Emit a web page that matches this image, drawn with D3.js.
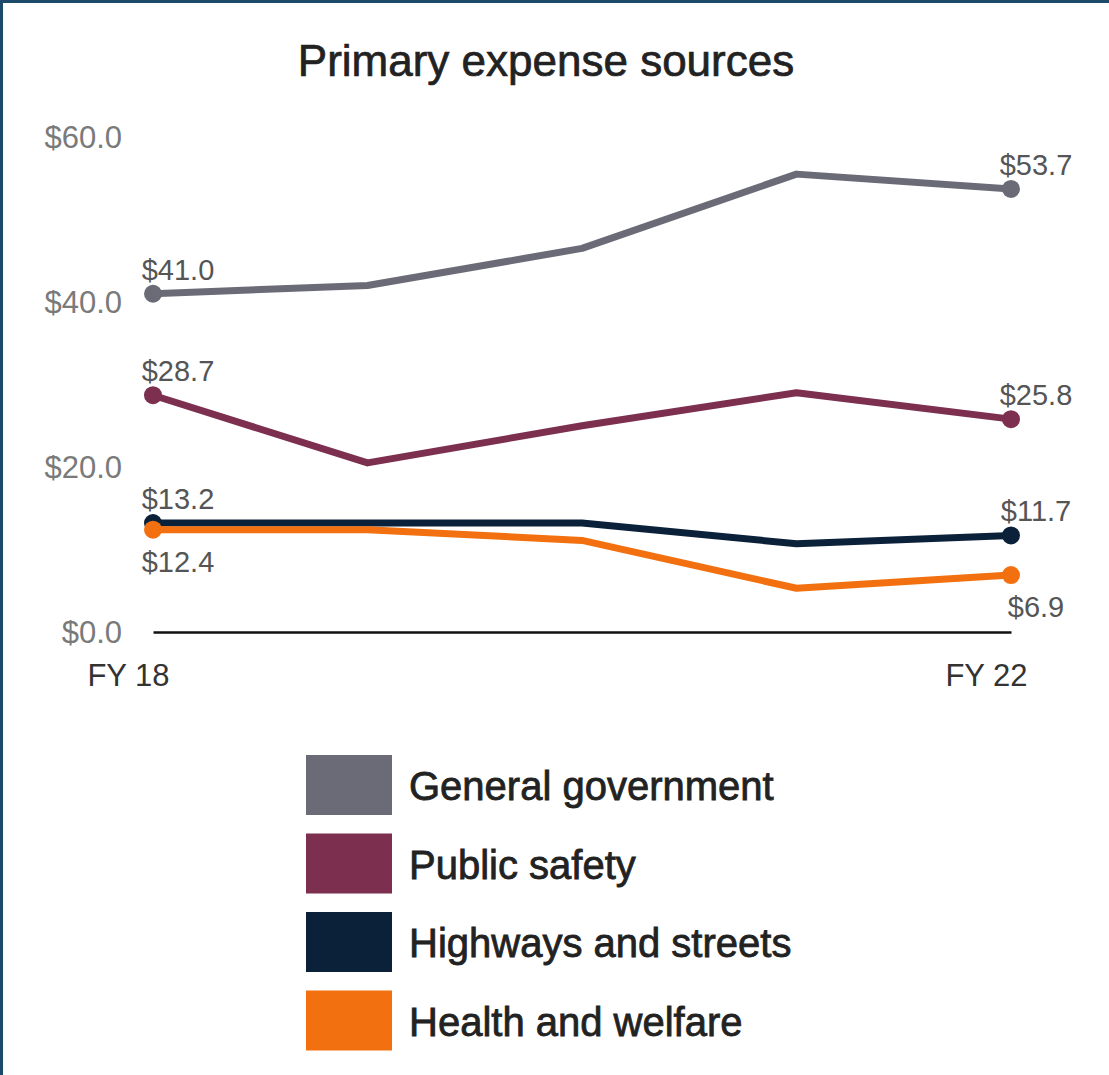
<!DOCTYPE html>
<html>
<head>
<meta charset="utf-8">
<script src="https://cdn.jsdelivr.net/npm/d3@7"></script>
<style>
  html, body { margin: 0; padding: 0; background: #fff; }
  body { font-family: "Liberation Sans", Arial, Helvetica, sans-serif; }
</style>
</head>
<body>
<script>
var WIDTH = 1109;
var HEIGHT = 1075;

// data (billions of $)
var years = ['FY 18', 'FY 19', 'FY 20', 'FY 21', 'FY 22'];
var seriesNames = ['General government', 'Public safety', 'Highways and streets', 'Health and welfare'];
var generalGovernment = [41.0, 42.0, 46.5, 55.5, 53.7];
var publicSafety = [28.7, 20.5, 25.0, 29.0, 25.8];
var highwaysStreets = [13.2, 13.2, 13.2, 10.7, 11.7];
var healthWelfare = [12.4, 12.4, 11.1, 5.3, 6.9];
var yTicks = [0, 20, 40, 60];
var xTickLabels = ['FY 18', 'FY 22'];

var colors = ['#6a6b77', '#7c2f4f', '#0b2139', '#f2700f'];
var allValues = [generalGovernment, publicSafety, highwaysStreets, healthWelfare];
// health and welfare puts its labels under the dots
var labelBelow = [false, false, false, true];

var series = seriesNames.map(function (name, i) {
    return { name: name, values: allValues[i], color: colors[i], below: labelBelow[i] };
});

var x = d3.scalePoint()
    .domain(years)
    .range([153, 1011]);

var y = d3.scaleLinear()
    .domain([0, 60])
    .range([632, 137]);

var svg = d3.select('body')
    .append('svg')
    .attr('width', WIDTH)
    .attr('height', HEIGHT);

svg.append('rect')
    .attr('width', WIDTH)
    .attr('height', HEIGHT)
    .attr('fill', '#fff');

// thin frame on the top and left edges
svg.append('path')
    .attr('d', 'M1.5,' + HEIGHT + 'V1.5H' + WIDTH)
    .attr('fill', 'none')
    .attr('stroke', '#1b4a6b')
    .attr('stroke-width', 3);

svg.append('text')
    .attr('x', 546)
    .attr('y', 76)
    .attr('text-anchor', 'middle')
    .attr('font-size', 44)
    .attr('fill', '#222')
    .attr('stroke', '#222')
    .attr('stroke-width', 0.7)
    .text('Primary expense sources');

// y axis: labels only
var yAxis = d3.axisLeft(y)
    .tickValues(yTicks)
    .tickSize(0)
    .tickPadding(0)
    .tickFormat(function (d) { return '$' + d3.format('.1f')(d); });

var yAxisG = svg.append('g')
    .attr('transform', 'translate(122,0)')
    .call(yAxis);
yAxisG.select('.domain').remove();
yAxisG.selectAll('text')
    .attr('font-family', '"Liberation Sans", Arial, sans-serif')
    .attr('font-size', 31)
    .attr('fill', '#7a7a7a')
    .attr('dy', '0.35em');

// baseline at zero
var xAxis = d3.axisBottom(x)
    .tickValues(xTickLabels)
    .tickSize(0)
    .tickPadding(0);

var xAxisG = svg.append('g')
    .attr('transform', 'translate(0,' + y(0) + ')')
    .call(xAxis);
xAxisG.select('.domain')
    .attr('stroke', '#111')
    .attr('stroke-width', 2.5);
xAxisG.selectAll('text')
    .attr('font-family', '"Liberation Sans", Arial, sans-serif')
    .attr('font-size', 31)
    .attr('fill', '#333')
    .attr('text-anchor', 'middle')
    .attr('dx', -25)
    .attr('dy', 0)
    .attr('y', 54);

var line = d3.line()
    .x(function (d, i) { return x(years[i]); })
    .y(function (d) { return y(d); });

var groups = svg.selectAll('g.series')
    .data(series)
    .enter()
    .append('g')
    .attr('class', 'series');

groups.append('path')
    .attr('d', function (d) { return line(d.values); })
    .attr('fill', 'none')
    .attr('stroke', function (d) { return d.color; })
    .attr('stroke-width', 7)
    .attr('stroke-linejoin', 'round');

// dots and labels only at first and last year
var endPoints = function (d) {
    var last = d.values.length - 1;
    return [
        { year: years[0], value: d.values[0], color: d.color, below: d.below },
        { year: years[last], value: d.values[last], color: d.color, below: d.below }
    ];
};

groups.selectAll('circle')
    .data(endPoints)
    .enter()
    .append('circle')
    .attr('cx', function (d) { return x(d.year); })
    .attr('cy', function (d) { return y(d.value); })
    .attr('r', 9)
    .attr('fill', function (d) { return d.color; });

groups.selectAll('text.value-label')
    .data(endPoints)
    .enter()
    .append('text')
    .attr('class', 'value-label')
    .attr('x', function (d) { return x(d.year) + 25; })
    .attr('y', function (d) { return y(d.value) + (d.below ? 42 : -14); })
    .attr('text-anchor', 'middle')
    .attr('font-size', 29)
    .attr('fill', '#555')
    .text(function (d) { return '$' + d3.format('.1f')(d.value); });

// legend
var legend = svg.selectAll('g.legend-item')
    .data(series)
    .enter()
    .append('g')
    .attr('class', 'legend-item')
    .attr('transform', function (d, i) { return 'translate(306,' + (755 + i * 78.5) + ')'; });

legend.append('rect')
    .attr('width', 86)
    .attr('height', 60)
    .attr('fill', function (d) { return d.color; });

legend.append('text')
    .attr('x', 103)
    .attr('y', 31)
    .attr('dy', '0.35em')
    .attr('font-size', 40)
    .attr('fill', '#222')
    .attr('stroke', '#222')
    .attr('stroke-width', 0.8)
    .text(function (d) { return d.name; });
</script>
</body>
</html>
